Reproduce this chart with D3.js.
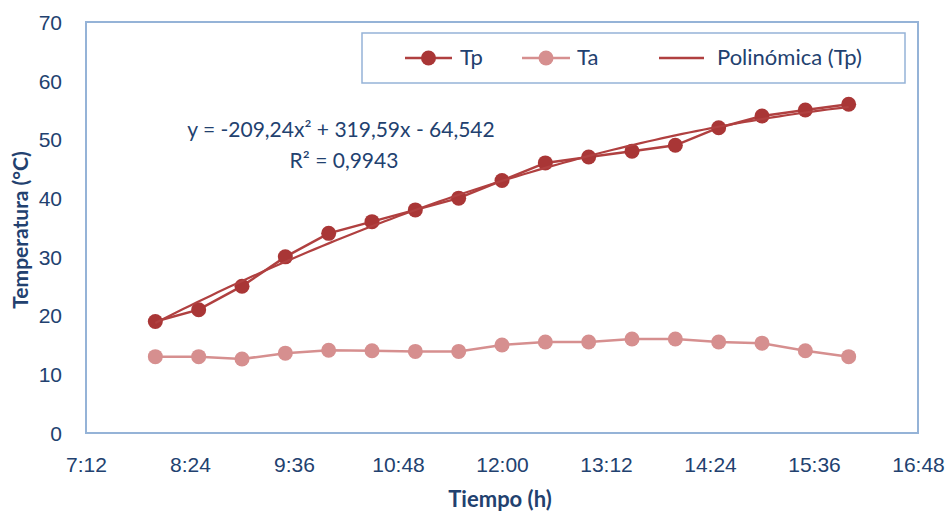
<!DOCTYPE html>
<html>
<head>
<meta charset="utf-8">
<script src="https://cdn.jsdelivr.net/npm/d3@7"></script>
<style>
  html, body { margin: 0; padding: 0; background: #fff; }
  svg { display: block; font-family: Lato, "Open Sans", sans-serif; }
</style>
</head>
<body>
<svg id="chart" width="947" height="515"></svg>
<script>
// Measurement times (h:mm)
const times = ["8:00","8:30","9:00","9:30","10:00","10:30","11:00","11:30","12:00",
               "12:30","13:00","13:30","14:00","14:30","15:00","15:30","16:00"];
// Panel temperature Tp (°C)
const tp = [19, 21, 25, 30, 34, 36, 38, 40, 43, 46, 47, 48, 49, 52, 54, 55, 56];
// Ambient temperature Ta (°C)
const ta = [13, 13, 12.6, 13.6, 14.1, 14, 13.9, 13.9, 15, 15.5, 15.5, 16, 16, 15.5, 15.3, 14, 13];
// Axis tick labels
const xTickLabels = ["7:12","8:24","9:36","10:48","12:00","13:12","14:24","15:36","16:48"];
const yTicks = [0, 10, 20, 30, 40, 50, 60, 70];
// Quadratic trend of Tp against day fraction
const trendCoef = [-209.24, 319.59, -64.542];
const trendLabel = "y = -209,24x² + 319,59x - 64,542";
const r2Label = "R² = 0,9943";

const toDay = s => { const [h, m] = s.split(":").map(Number); return (h * 60 + m) / 1440; };

const svg = d3.select("#chart");
const plot = { left: 86, right: 918, top: 22, bottom: 433 };
const textColor = "#22416F";
const frameColor = "#95B3D7";
const tpColor = "#A93636";
const tpLine = "#B04040";
const taColor = "#D68F8F";

const xTicks = xTickLabels.map(toDay);
const x = d3.scaleLinear().domain([xTicks[0], xTicks[xTicks.length - 1]]).range([plot.left, plot.right]);
const y = d3.scaleLinear().domain([0, 70]).range([plot.bottom, plot.top]);

// Plot frame
svg.append("rect")
  .attr("x", plot.left).attr("y", plot.top)
  .attr("width", plot.right - plot.left).attr("height", plot.bottom - plot.top)
  .attr("fill", "none").attr("stroke", frameColor).attr("stroke-width", 2);

// Axes (labels only)
const xAxis = d3.axisBottom(x).tickValues(xTicks)
  .tickFormat((d, i) => xTickLabels[i]).tickSize(0).tickPadding(0);
const gx = svg.append("g").attr("transform", `translate(0,${plot.bottom})`).call(xAxis);
gx.select(".domain").remove();
gx.selectAll("text").attr("y", 39).attr("dy", 0)
  .attr("fill", textColor).style("font-size", "21px");

const yAxis = d3.axisLeft(y).tickValues(yTicks).tickSize(0).tickPadding(0);
const gy = svg.append("g").attr("transform", `translate(62,0)`).call(yAxis);
gy.select(".domain").remove();
gy.selectAll("text").attr("fill", textColor).style("font-size", "21px").attr("dy", "0.35em");

// Axis titles
svg.append("text").attr("x", 500).attr("y", 507).attr("text-anchor", "middle")
  .attr("fill", textColor).style("font-size", "22px").style("font-weight", "bold")
  .text("Tiempo (h)");
svg.append("text").attr("transform", "translate(28,230) rotate(-90)").attr("text-anchor", "middle")
  .attr("fill", textColor).style("font-size", "21px").style("font-weight", "bold")
  .text("Temperatura (°C)");

const ptsTp = times.map((t, i) => [toDay(t), tp[i]]);
const ptsTa = times.map((t, i) => [toDay(t), ta[i]]);
const line = d3.line().x(d => x(d[0])).y(d => y(d[1]));

// Ta series
svg.append("path").datum(ptsTa).attr("d", line)
  .attr("fill", "none").attr("stroke", taColor).attr("stroke-width", 2.5);
svg.append("g").selectAll("circle").data(ptsTa).join("circle")
  .attr("cx", d => x(d[0])).attr("cy", d => y(d[1])).attr("r", 7.5)
  .attr("fill", taColor);

// Tp series
svg.append("path").datum(ptsTp).attr("d", line)
  .attr("fill", "none").attr("stroke", tpLine).attr("stroke-width", 2.5);
svg.append("g").selectAll("circle").data(ptsTp).join("circle")
  .attr("cx", d => x(d[0])).attr("cy", d => y(d[1])).attr("r", 7.5)
  .attr("fill", tpColor);

// Polynomial trendline
const x0 = toDay(times[0]), x1 = toDay(times[times.length - 1]);
const trendPts = d3.range(0, 101).map(k => {
  const xv = x0 + (x1 - x0) * k / 100;
  return [xv, trendCoef[0] * xv * xv + trendCoef[1] * xv + trendCoef[2]];
});
svg.append("path").datum(trendPts).attr("d", line)
  .attr("fill", "none").attr("stroke", tpLine).attr("stroke-width", 2.2);

// Trend equation
svg.append("text").attr("x", 341).attr("y", 137).attr("text-anchor", "middle")
  .attr("fill", textColor).style("font-size", "21px").text(trendLabel);
svg.append("text").attr("x", 344).attr("y", 168).attr("text-anchor", "middle")
  .attr("fill", textColor).style("font-size", "21px").text(r2Label);

// Legend
const lg = svg.append("g");
lg.append("rect").attr("x", 362).attr("y", 33).attr("width", 543).attr("height", 50)
  .attr("fill", "#fff").attr("stroke", frameColor).attr("stroke-width", 1.5);
const legendItems = [
  { label: "Tp", color: tpLine, marker: tpColor, x0: 405, x1: 452, tx: 460 },
  { label: "Ta", color: taColor, marker: taColor, x0: 522, x1: 570, tx: 577 },
  { label: "Polinómica (Tp)", color: tpLine, marker: null, x0: 659, x1: 704, tx: 717 }
];
legendItems.forEach(it => {
  lg.append("line").attr("x1", it.x0).attr("x2", it.x1).attr("y1", 58).attr("y2", 58)
    .attr("stroke", it.color).attr("stroke-width", 2.5);
  if (it.marker) {
    lg.append("circle").attr("cx", (it.x0 + it.x1) / 2).attr("cy", 58).attr("r", 7.5)
      .attr("fill", it.marker);
  }
  lg.append("text").attr("x", it.tx).attr("y", 65)
    .attr("fill", textColor).style("font-size", "22px").text(it.label);
});
</script>
</body>
</html>
